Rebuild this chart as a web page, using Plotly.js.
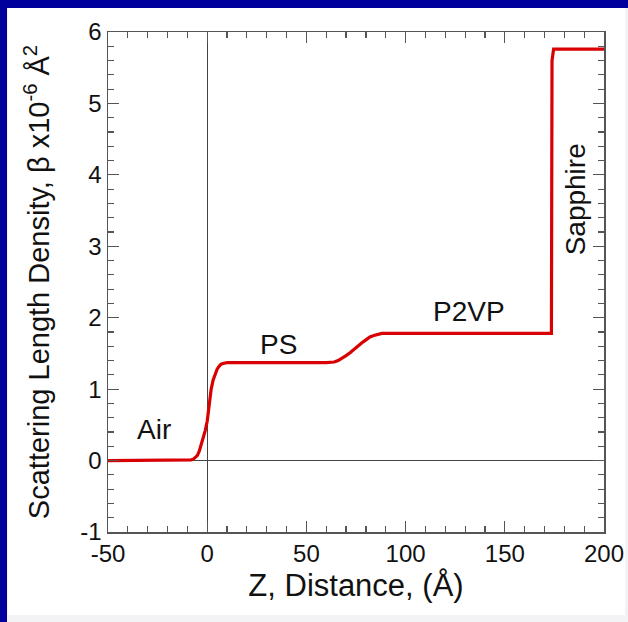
<!DOCTYPE html>
<html>
<head>
<meta charset="utf-8">
<script src="https://cdn.plot.ly/plotly-3.0.1.min.js"></script>
<style>
  html, body { margin:0; padding:0; }
  body { width:628px; height:622px; background:#f3f3f5; position:relative; overflow:hidden; }
  #topbar { position:absolute; left:0; top:0; width:628px; height:8px; background:#00009c; }
  #leftbar { position:absolute; left:0; top:0; width:7px; height:622px; background:#00009c; }
  #chart { position:absolute; left:8px; top:8px; width:617px; height:607px; background:#fff; }
</style>
</head>
<body>
<div id="topbar"></div>
<div id="leftbar"></div>
<div id="chart"></div>
<script>
// Distance Z (Å)
const zValues = [-50, -10, -8, -7, -6, -5, -4, -3, -2, -1, 0, 1, 2, 3, 4, 5, 6, 7, 8, 10, 60, 62, 64, 66, 68, 70, 72, 74, 76, 78, 80, 82, 84, 86, 88, 92, 173.5, 173.8, 174.6, 200];
// Scattering length density (x1e-6 Å^-2)
const sldValues = [0, 0, 0.01, 0.02, 0.04, 0.07, 0.13, 0.22, 0.3, 0.42, 0.55, 0.8, 1.0, 1.13, 1.22, 1.28, 1.32, 1.35, 1.36, 1.37, 1.37, 1.375, 1.38, 1.4, 1.43, 1.47, 1.51, 1.56, 1.61, 1.65, 1.69, 1.73, 1.75, 1.77, 1.78, 1.78, 1.78, 5.6, 5.76, 5.76];

const regionLabels = ["Air", "PS", "P2VP", "Sapphire"];
const regionX = [-27, 36, 132, 185.5];
const regionY = [0.43, 1.62, 2.09, 3.66];
const regionAngle = [0, 0, 0, -90];

const xTicks = [-50, 0, 50, 100, 150, 200];
const yTicks = [-1, 0, 1, 2, 3, 4, 5, 6];

const font = "Liberation Sans, Arial, sans-serif";
const axisColor = "#555";

const trace = {
  x: zValues, y: sldValues, mode: "lines", type: "scatter",
  line: {color: "#d80000", width: 3.2},
  hoverinfo: "skip"
};

const annotations = regionLabels.map((t, i) => ({
  x: regionX[i], y: regionY[i], xref: "x", yref: "y", text: t,
  showarrow: false, textangle: regionAngle[i],
  font: {family: font, size: 28, color: "#111"}
}));

const layout = {
  width: 617, height: 607,
  margin: {l: 100, r: 21, t: 24, b: 83},
  paper_bgcolor: "#fff", plot_bgcolor: "#fff",
  showlegend: false,
  font: {family: font, color: "#111"},
  xaxis: {
    range: [-50, 200], tickvals: xTicks, ticktext: xTicks.map(String),
    ticks: "inside", ticklen: 11, tickwidth: 1.2, tickcolor: axisColor,
    minor: {dtick: 10, ticks: "inside", ticklen: 6, tickwidth: 1.2, tickcolor: axisColor},
    showline: true, linecolor: axisColor, linewidth: 1.5, mirror: "ticks",
    showgrid: false, zeroline: true, zerolinecolor: "#444", zerolinewidth: 1,
    tickfont: {family: font, size: 24, color: "#111"},
    title: {text: "Z, Distance, (Å)", font: {family: font, size: 31, color: "#111"}, standoff: 8}
  },
  yaxis: {
    range: [-1, 6], tickvals: yTicks, ticktext: yTicks.map(String),
    ticks: "inside", ticklen: 11, tickwidth: 1.2, tickcolor: axisColor,
    minor: {dtick: 0.2, ticks: "inside", ticklen: 6, tickwidth: 1.2, tickcolor: axisColor},
    showline: true, linecolor: axisColor, linewidth: 1.5, mirror: "ticks",
    showgrid: false, zeroline: true, zerolinecolor: "#444", zerolinewidth: 1,
    tickfont: {family: font, size: 24, color: "#111"},
    title: {text: "Scattering Length Density, β x10<sup>-6</sup> Å<sup>2</sup>", font: {family: font, size: 29, color: "#111"}, standoff: 22}
  },
  annotations: annotations
};

Plotly.newPlot("chart", [trace], layout, {displayModeBar: false, staticPlot: true});
</script>
</body>
</html>
